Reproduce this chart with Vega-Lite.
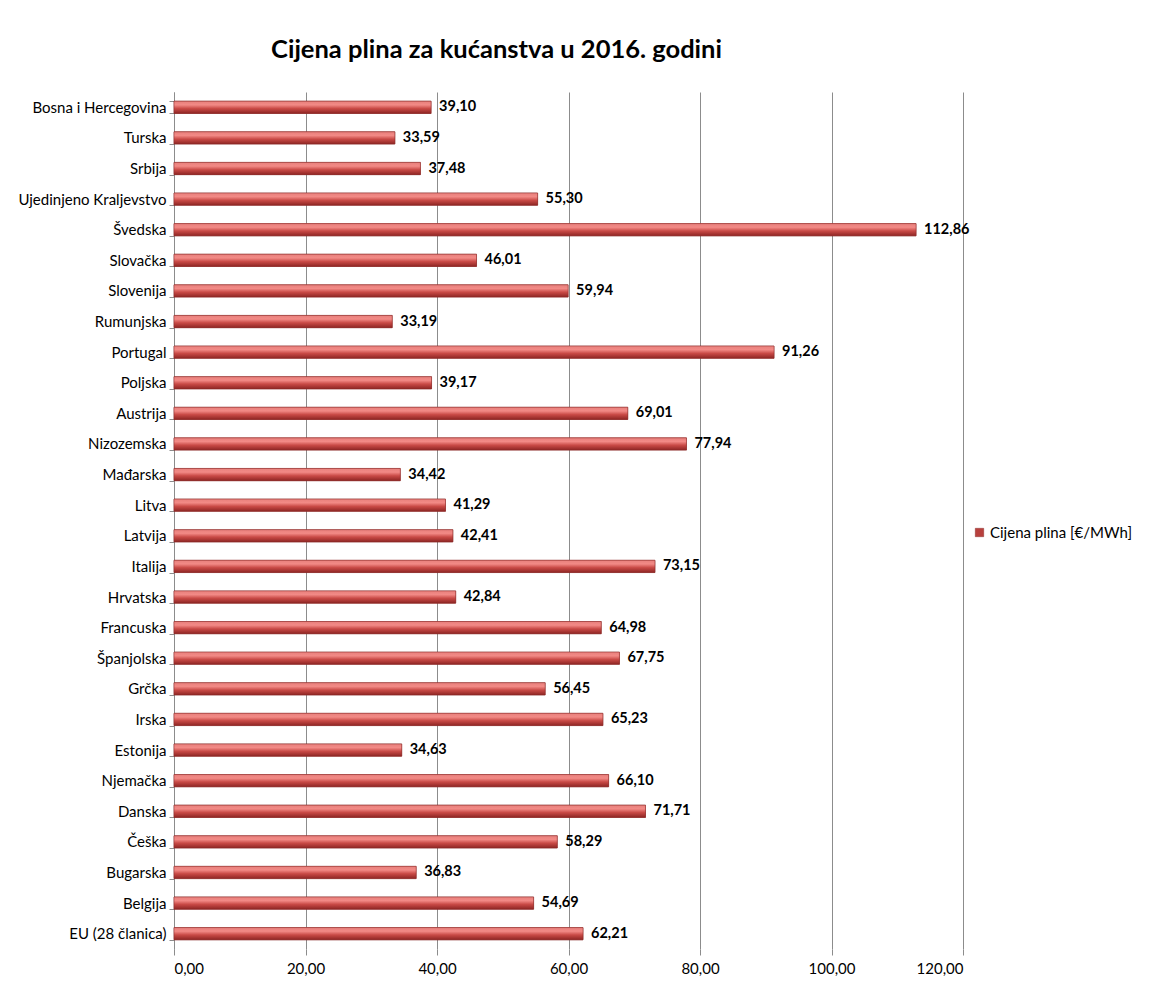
{
  "$schema": "https://vega.github.io/schema/vega-lite/v6.json",
  "autosize": "none",
  "width": 789,
  "height": 857,
  "padding": {"left": 174, "top": 92, "right": 202, "bottom": 40},
  "background": "white",
  "config": {
    "locale": {"number": {"decimal": ",", "thousands": ".", "grouping": [3], "currency": ["", " €"]}},
    "font": "Lato",
    "view": {"stroke": null}
  },
  "title": {
    "text": "Cijena plina za kućanstva u 2016. godini",
    "font": "Lato",
    "fontSize": 25.5,
    "fontWeight": "bold",
    "color": "#000000",
    "anchor": "middle",
    "dx": -72,
    "offset": 22
  },
  "data": {
    "values": [
      {"zemlja": "Bosna i Hercegovina", "cijena": 39.10, "serija": "Cijena plina [€/MWh]"},
      {"zemlja": "Turska", "cijena": 33.59, "serija": "Cijena plina [€/MWh]"},
      {"zemlja": "Srbija", "cijena": 37.48, "serija": "Cijena plina [€/MWh]"},
      {"zemlja": "Ujedinjeno Kraljevstvo", "cijena": 55.30, "serija": "Cijena plina [€/MWh]"},
      {"zemlja": "Švedska", "cijena": 112.86, "serija": "Cijena plina [€/MWh]"},
      {"zemlja": "Slovačka", "cijena": 46.01, "serija": "Cijena plina [€/MWh]"},
      {"zemlja": "Slovenija", "cijena": 59.94, "serija": "Cijena plina [€/MWh]"},
      {"zemlja": "Rumunjska", "cijena": 33.19, "serija": "Cijena plina [€/MWh]"},
      {"zemlja": "Portugal", "cijena": 91.26, "serija": "Cijena plina [€/MWh]"},
      {"zemlja": "Poljska", "cijena": 39.17, "serija": "Cijena plina [€/MWh]"},
      {"zemlja": "Austrija", "cijena": 69.01, "serija": "Cijena plina [€/MWh]"},
      {"zemlja": "Nizozemska", "cijena": 77.94, "serija": "Cijena plina [€/MWh]"},
      {"zemlja": "Mađarska", "cijena": 34.42, "serija": "Cijena plina [€/MWh]"},
      {"zemlja": "Litva", "cijena": 41.29, "serija": "Cijena plina [€/MWh]"},
      {"zemlja": "Latvija", "cijena": 42.41, "serija": "Cijena plina [€/MWh]"},
      {"zemlja": "Italija", "cijena": 73.15, "serija": "Cijena plina [€/MWh]"},
      {"zemlja": "Hrvatska", "cijena": 42.84, "serija": "Cijena plina [€/MWh]"},
      {"zemlja": "Francuska", "cijena": 64.98, "serija": "Cijena plina [€/MWh]"},
      {"zemlja": "Španjolska", "cijena": 67.75, "serija": "Cijena plina [€/MWh]"},
      {"zemlja": "Grčka", "cijena": 56.45, "serija": "Cijena plina [€/MWh]"},
      {"zemlja": "Irska", "cijena": 65.23, "serija": "Cijena plina [€/MWh]"},
      {"zemlja": "Estonija", "cijena": 34.63, "serija": "Cijena plina [€/MWh]"},
      {"zemlja": "Njemačka", "cijena": 66.10, "serija": "Cijena plina [€/MWh]"},
      {"zemlja": "Danska", "cijena": 71.71, "serija": "Cijena plina [€/MWh]"},
      {"zemlja": "Češka", "cijena": 58.29, "serija": "Cijena plina [€/MWh]"},
      {"zemlja": "Bugarska", "cijena": 36.83, "serija": "Cijena plina [€/MWh]"},
      {"zemlja": "Belgija", "cijena": 54.69, "serija": "Cijena plina [€/MWh]"},
      {"zemlja": "EU (28 članica)", "cijena": 62.21, "serija": "Cijena plina [€/MWh]"}
    ]
  },
  "encoding": {
    "y": {
      "field": "zemlja",
      "type": "nominal",
      "sort": null,
      "title": null,
      "scale": {"paddingInner": 0.6, "paddingOuter": 0.3},
      "axis": {
        "tickBand": "extent",
        "domainColor": "#8c8c8c",
        "tickColor": "#8c8c8c",
        "tickSize": 5,
        "labelFont": "Lato",
        "labelFontSize": 15,
        "labelColor": "#000000",
        "labelPadding": 3
      }
    },
    "x": {
      "field": "cijena",
      "type": "quantitative",
      "title": null,
      "scale": {"domain": [0, 120], "nice": false},
      "axis": {
        "values": [0, 20, 40, 60, 80, 100, 120],
        "format": ".2f",
        "domain": false,
        "grid": true,
        "gridColor": "#8c8c8c",
        "gridWidth": 1,
        "tickColor": "#8c8c8c",
        "tickSize": 6,
        "labelFont": "Lato",
        "labelFontSize": 15,
        "labelColor": "#000000",
        "labelPadding": 6
      }
    }
  },
  "layer": [
    {
      "mark": {"type": "bar", "stroke": "#8a2a28", "strokeWidth": 0.5},
      "encoding": {
        "fill": {
          "field": "serija",
          "type": "nominal",
          "scale": {"range": ["#b8403d"]},
          "legend": {
            "title": null,
            "orient": "none",
            "legendX": 798,
            "legendY": 433,
            "symbolType": "square",
            "symbolSize": 70,
            "symbolStrokeColor": "#8a2a28",
            "symbolStrokeWidth": 0.5,
            "labelFont": "Lato",
            "labelFontSize": 15,
            "labelColor": "#000000",
            "labelOffset": 3
          }
        }
      }
    },
    {
      "mark": {
        "type": "bar",
        "fill": {
          "gradient": "linear",
          "x1": 0, "y1": 0, "x2": 0, "y2": 1,
          "stops": [
            {"offset": 0, "color": "#e8807c"},
            {"offset": 0.3, "color": "#f28a86"},
            {"offset": 0.6, "color": "#c94a46"},
            {"offset": 1, "color": "#8e2624"}
          ]
        },
        "stroke": "#8a2a28",
        "strokeWidth": 0.5
      },
      "encoding": {}
    },
    {
      "mark": {"type": "text", "align": "left", "baseline": "middle", "dx": 8, "font": "Lato", "fontSize": 14.5, "fontWeight": "bold", "color": "#000000"},
      "encoding": {
        "text": {"field": "cijena", "type": "quantitative", "format": ".2f"}
      }
    }
  ]
}
